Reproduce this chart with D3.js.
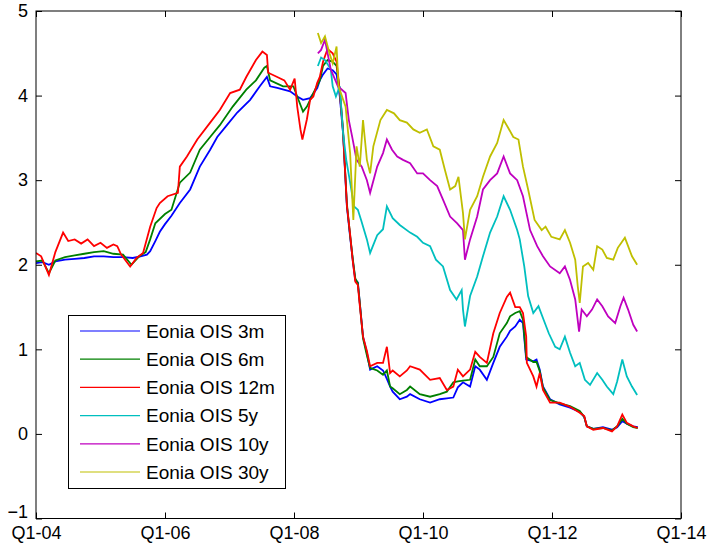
<!DOCTYPE html>
<html><head><meta charset="utf-8">
<script src="https://cdn.jsdelivr.net/npm/d3@7"></script>
<style>
html,body{margin:0;padding:0;background:#fff;}
svg{display:block;font-family:"Liberation Sans",Arial,Helvetica,sans-serif;}
</style></head>
<body>
<svg id="chart" width="708" height="550"></svg>
<script>
// ---- data (decimal years, percent) ----
const xTickValues = [2004, 2006, 2008, 2010, 2012, 2014];
const xTickLabels = ["Q1-04", "Q1-06", "Q1-08", "Q1-10", "Q1-12", "Q1-14"];
const yTickValues = [-1, 0, 1, 2, 3, 4, 5];

const seriesNames = ["Eonia OIS 3m", "Eonia OIS 6m", "Eonia OIS 12m", "Eonia OIS 5y", "Eonia OIS 10y", "Eonia OIS 30y"];
const seriesColors = ["#0000ff", "#008000", "#ff0000", "#00bfbf", "#bf00bf", "#bfbf00"];

const t3m = [2004.00,2004.10,2004.20,2004.30,2004.45,2004.60,2004.75,2004.90,2005.05,2005.20,2005.35,2005.50,2005.62,2005.72,2005.77,2005.85,2005.92,2006.00,2006.10,2006.23,2006.39,2006.54,2006.70,2006.81,2006.96,2007.12,2007.32,2007.47,2007.58,2007.63,2007.74,2007.94,2008.05,2008.14,2008.25,2008.36,2008.40,2008.45,2008.52,2008.60,2008.66,2008.71,2008.76,2008.79,2008.82,2008.87,2008.91,2008.95,2008.99,2009.02,2009.07,2009.13,2009.18,2009.29,2009.38,2009.44,2009.49,2009.53,2009.64,2009.75,2009.80,2009.95,2010.11,2010.26,2010.37,2010.47,2010.54,2010.62,2010.73,2010.81,2010.88,2010.99,2011.09,2011.19,2011.30,2011.35,2011.43,2011.50,2011.55,2011.60,2011.71,2011.76,2011.81,2011.86,2011.97,2012.12,2012.28,2012.43,2012.50,2012.54,2012.64,2012.79,2012.93,2013.01,2013.09,2013.16,2013.26,2013.33];
const ois3m = [2.02,2.03,2.00,2.04,2.06,2.07,2.08,2.10,2.10,2.09,2.09,2.08,2.10,2.12,2.16,2.28,2.39,2.48,2.58,2.73,2.89,3.16,3.36,3.51,3.65,3.80,3.95,4.11,4.22,4.11,4.09,4.05,3.99,3.95,3.97,4.09,4.18,4.25,4.32,4.30,4.25,3.99,3.56,3.12,2.69,2.33,2.06,1.82,1.79,1.55,1.15,0.96,0.76,0.80,0.75,0.65,0.56,0.50,0.41,0.44,0.47,0.41,0.37,0.41,0.42,0.43,0.55,0.61,0.56,0.80,0.76,0.64,0.84,1.03,1.15,1.22,1.27,1.35,1.31,0.88,0.86,0.88,0.76,0.56,0.41,0.35,0.31,0.26,0.20,0.09,0.06,0.08,0.05,0.08,0.15,0.12,0.09,0.08];

const t6m = [2004.00,2004.10,2004.20,2004.30,2004.45,2004.60,2004.75,2004.90,2005.05,2005.20,2005.35,2005.48,2005.60,2005.70,2005.77,2005.85,2006.00,2006.10,2006.23,2006.39,2006.54,2006.70,2006.85,2007.05,2007.26,2007.41,2007.54,2007.58,2007.63,2007.83,2007.99,2008.09,2008.14,2008.20,2008.30,2008.40,2008.45,2008.52,2008.60,2008.66,2008.71,2008.76,2008.79,2008.82,2008.87,2008.91,2008.95,2008.99,2009.02,2009.07,2009.13,2009.18,2009.29,2009.38,2009.44,2009.49,2009.53,2009.64,2009.75,2009.80,2009.95,2010.11,2010.26,2010.37,2010.47,2010.54,2010.62,2010.73,2010.81,2010.88,2010.99,2011.09,2011.19,2011.30,2011.35,2011.43,2011.50,2011.55,2011.60,2011.71,2011.76,2011.81,2011.86,2011.97,2012.12,2012.28,2012.43,2012.50,2012.54,2012.64,2012.79,2012.93,2013.01,2013.09,2013.16,2013.26,2013.33];
const ois6m = [2.04,2.05,1.90,2.05,2.09,2.11,2.13,2.15,2.16,2.13,2.12,2.00,2.10,2.15,2.30,2.49,2.60,2.65,2.97,3.09,3.36,3.51,3.65,3.87,4.07,4.18,4.33,4.35,4.18,4.11,4.11,3.91,3.81,3.87,4.03,4.18,4.35,4.42,4.40,4.35,4.05,3.60,3.15,2.72,2.35,2.08,1.84,1.78,1.55,1.13,0.93,0.78,0.75,0.70,0.75,0.56,0.54,0.47,0.52,0.56,0.47,0.44,0.47,0.50,0.61,0.62,0.63,0.64,0.88,0.80,0.80,0.91,1.19,1.31,1.39,1.43,1.45,1.35,0.91,0.85,0.85,0.74,0.55,0.40,0.36,0.33,0.27,0.20,0.09,0.06,0.07,0.04,0.09,0.18,0.12,0.08,0.07];

const t12m = [2004.00,2004.08,2004.20,2004.30,2004.42,2004.50,2004.60,2004.70,2004.80,2004.90,2005.00,2005.10,2005.20,2005.26,2005.32,2005.46,2005.56,2005.66,2005.77,2005.87,2005.92,2006.04,2006.20,2006.23,2006.34,2006.50,2006.70,2006.85,2007.01,2007.16,2007.26,2007.41,2007.51,2007.58,2007.60,2007.74,2007.85,2007.94,2008.01,2008.05,2008.10,2008.13,2008.20,2008.25,2008.30,2008.36,2008.40,2008.45,2008.52,2008.60,2008.66,2008.71,2008.76,2008.79,2008.82,2008.87,2008.91,2008.95,2008.99,2009.02,2009.07,2009.13,2009.18,2009.29,2009.38,2009.44,2009.49,2009.53,2009.64,2009.75,2009.80,2009.95,2010.11,2010.26,2010.37,2010.47,2010.54,2010.62,2010.73,2010.81,2010.88,2010.99,2011.09,2011.19,2011.30,2011.35,2011.43,2011.50,2011.55,2011.60,2011.61,2011.71,2011.76,2011.81,2011.86,2011.97,2012.12,2012.28,2012.43,2012.50,2012.54,2012.64,2012.79,2012.93,2013.01,2013.09,2013.16,2013.26,2013.33];
const ois12m = [2.14,2.10,1.88,2.15,2.38,2.28,2.30,2.25,2.30,2.22,2.26,2.20,2.24,2.22,2.12,1.98,2.08,2.14,2.45,2.67,2.73,2.81,2.85,3.16,3.28,3.48,3.68,3.83,4.03,4.07,4.22,4.42,4.52,4.48,4.27,4.22,4.18,4.07,4.20,3.87,3.60,3.48,3.72,3.95,3.99,4.15,4.22,4.40,4.55,4.50,4.40,4.05,3.58,3.14,2.70,2.36,2.05,1.80,1.76,1.52,1.15,0.98,0.80,0.84,0.84,1.03,0.72,0.75,0.68,0.75,0.80,0.76,0.64,0.66,0.52,0.56,0.76,0.68,0.76,0.97,0.91,0.84,1.19,1.43,1.62,1.67,1.50,1.50,1.43,1.15,0.84,0.68,0.56,0.72,0.52,0.37,0.37,0.32,0.25,0.21,0.09,0.05,0.07,0.03,0.09,0.23,0.13,0.09,0.07];

const t5y = [2008.37,2008.42,2008.48,2008.57,2008.60,2008.65,2008.71,2008.76,2008.81,2008.88,2008.93,2008.99,2009.04,2009.13,2009.18,2009.29,2009.38,2009.44,2009.53,2009.64,2009.80,2009.91,2010.00,2010.11,2010.20,2010.31,2010.42,2010.52,2010.60,2010.62,2010.65,2010.73,2010.84,2010.93,2011.04,2011.15,2011.25,2011.35,2011.46,2011.50,2011.57,2011.63,2011.71,2011.79,2011.87,2011.95,2012.05,2012.12,2012.20,2012.28,2012.36,2012.43,2012.51,2012.59,2012.70,2012.78,2012.85,2012.95,2013.01,2013.09,2013.16,2013.24,2013.32];
const ois5y = [4.35,4.45,4.42,4.31,4.11,3.99,4.11,3.56,3.24,2.93,2.69,2.65,2.53,2.30,2.14,2.35,2.42,2.69,2.55,2.47,2.38,2.33,2.26,2.22,2.06,1.98,1.70,1.59,1.70,1.47,1.27,1.63,1.86,2.10,2.38,2.57,2.81,2.65,2.41,2.30,1.98,1.63,1.43,1.51,1.35,1.19,1.03,1.00,1.15,0.96,0.80,0.84,0.64,0.58,0.72,0.64,0.56,0.47,0.62,0.88,0.68,0.56,0.46];

const t10y = [2008.37,2008.42,2008.48,2008.57,2008.68,2008.80,2008.85,2008.90,2008.97,2009.05,2009.13,2009.18,2009.29,2009.38,2009.44,2009.52,2009.60,2009.69,2009.80,2009.91,2010.00,2010.11,2010.22,2010.31,2010.42,2010.53,2010.62,2010.65,2010.73,2010.84,2010.93,2011.04,2011.15,2011.25,2011.35,2011.46,2011.55,2011.66,2011.77,2011.86,2011.97,2012.12,2012.20,2012.28,2012.36,2012.42,2012.46,2012.54,2012.62,2012.70,2012.78,2012.87,2012.98,2013.06,2013.11,2013.18,2013.26,2013.32];
const ois10y = [4.50,4.54,4.66,4.31,4.11,4.03,3.71,3.52,3.24,3.16,3.00,2.85,3.16,3.32,3.48,3.36,3.28,3.24,3.20,3.08,3.08,3.00,2.93,2.77,2.57,2.49,2.41,2.06,2.30,2.57,2.89,3.00,3.08,3.28,3.08,3.00,2.81,2.41,2.22,2.10,1.98,1.90,1.98,1.82,1.59,1.21,1.47,1.39,1.47,1.59,1.51,1.39,1.31,1.51,1.61,1.47,1.29,1.21];

const t30y = [2008.37,2008.42,2008.48,2008.55,2008.60,2008.66,2008.69,2008.80,2008.82,2008.87,2008.92,2008.97,2009.02,2009.07,2009.13,2009.18,2009.23,2009.34,2009.44,2009.55,2009.64,2009.75,2009.85,2009.95,2010.06,2010.16,2010.26,2010.34,2010.42,2010.50,2010.55,2010.62,2010.65,2010.73,2010.84,2010.93,2011.04,2011.15,2011.25,2011.32,2011.40,2011.48,2011.55,2011.63,2011.73,2011.84,2011.90,2011.99,2012.12,2012.20,2012.28,2012.36,2012.40,2012.43,2012.48,2012.56,2012.64,2012.70,2012.78,2012.85,2012.95,2013.02,2013.13,2013.18,2013.24,2013.32];
const ois30y = [4.74,4.62,4.70,4.50,4.38,4.58,4.11,3.87,3.71,3.32,2.53,3.40,3.16,3.71,3.24,3.08,3.40,3.71,3.83,3.79,3.71,3.68,3.60,3.56,3.60,3.40,3.36,3.12,2.89,2.93,3.04,2.61,2.30,2.65,2.81,3.04,3.28,3.44,3.71,3.62,3.51,3.48,3.16,2.89,2.53,2.41,2.45,2.33,2.30,2.41,2.26,2.06,1.74,1.55,1.98,2.02,1.94,2.22,2.18,2.08,2.06,2.20,2.32,2.22,2.10,2.00];

const seriesTimes = [t3m, t6m, t12m, t5y, t10y, t30y];
const seriesValues = [ois3m, ois6m, ois12m, ois5y, ois10y, ois30y];

// ---- layout ----
const L = 36, R = 681, T = 11, B = 518.5;
const svg = d3.select("#chart");
const x = d3.scaleLinear().domain([2004, 2014]).range([L, R]);
const y = d3.scaleLinear().domain([-1, 5]).range([B, T]);

svg.append("rect").attr("width", 708).attr("height", 550).attr("fill", "#fff");

svg.append("defs").append("clipPath").attr("id", "clip")
  .append("rect").attr("x", L).attr("y", T).attr("width", R - L).attr("height", B - T);

const line = d3.line().x(d => x(d[0])).y(d => y(d[1]));
const plot = svg.append("g").attr("clip-path", "url(#clip)");
seriesValues.forEach((vals, i) => {
  const pts = vals.map((v, j) => [seriesTimes[i][j], v]);
  plot.append("path").datum(pts)
    .attr("fill", "none").attr("stroke", seriesColors[i])
    .attr("stroke-width", 1.8).attr("stroke-linejoin", "miter")
    .attr("d", line);
});

// ---- axes ----
const fontSize = 18;
function styleAxis(g) {
  g.select(".domain").remove();
  g.selectAll(".tick line").attr("stroke", "#000");
  g.selectAll(".tick text").attr("fill", "#000").attr("font-size", fontSize)
    .attr("font-family", "Liberation Sans, Arial, sans-serif");
}
svg.append("g").attr("transform", `translate(0,${B})`)
  .call(d3.axisBottom(x).tickValues(xTickValues).tickFormat((d, i) => xTickLabels[i]).tickSize(-6).tickPadding(8))
  .call(styleAxis);
svg.append("g").attr("transform", `translate(0,${T})`)
  .call(d3.axisTop(x).tickValues(xTickValues).tickFormat("").tickSize(-6))
  .call(styleAxis);
const yAxisG = svg.append("g").attr("transform", `translate(${L},0)`)
  .call(d3.axisLeft(y).tickValues(yTickValues).tickFormat(d3.format("d")).tickSize(-6).tickPadding(8))
  .call(styleAxis);
// the lowest label sits slightly raised, as in the reference, clear of "Q1-04"
yAxisG.selectAll(".tick text").filter(d => d === -1).attr("dy", "-0.05em");
svg.append("g").attr("transform", `translate(${R},0)`)
  .call(d3.axisRight(y).tickValues(yTickValues).tickFormat("").tickSize(-6))
  .call(styleAxis);

svg.append("rect").attr("x", L).attr("y", T).attr("width", R - L).attr("height", B - T)
  .attr("fill", "none").attr("stroke", "#000").attr("stroke-width", 1);

// ---- legend ----
const lg = svg.append("g");
lg.append("rect").attr("x", 68.5).attr("y", 315.5).attr("width", 217).attr("height", 173)
  .attr("fill", "#fff").attr("stroke", "#000").attr("stroke-width", 1);
seriesNames.forEach((name, i) => {
  const yy = 331 + i * 28.2;
  lg.append("line").attr("x1", 80).attr("x2", 140).attr("y1", yy).attr("y2", yy)
    .attr("stroke", seriesColors[i]).attr("stroke-width", 1.2);
  lg.append("text").attr("x", 146).attr("y", yy).attr("dy", "0.36em")
    .attr("font-size", 19).attr("fill", "#000").text(name);
});
</script>
</body></html>
